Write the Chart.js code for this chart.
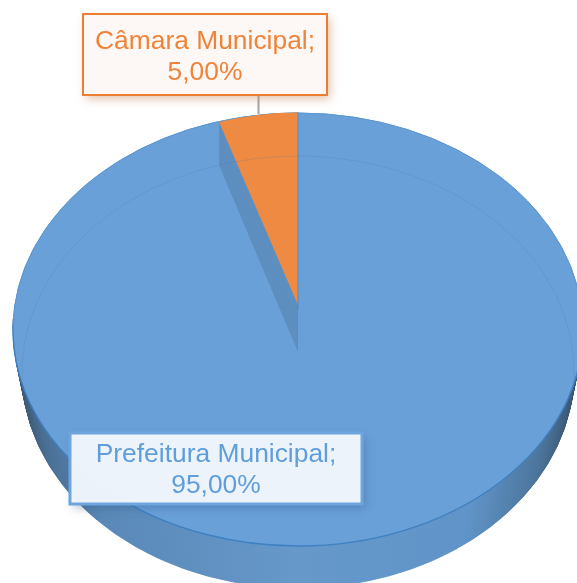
<!DOCTYPE html>
<html>
<head>
<meta charset="utf-8">
<style>html,body{margin:0;padding:0;background:#fff;overflow:hidden}canvas{display:block}</style>
<script src="https://cdn.jsdelivr.net/npm/chart.js@4/dist/chart.umd.min.js"></script>
</head>
<body>
<canvas id="c" width="577" height="583"></canvas>
<script>
const categories = ['Prefeitura Municipal', 'Câmara Municipal'];
const values = [95, 5];
const valueLabels = ['95,00%', '5,00%'];
const sliceColors = ['#6aa0d8', '#ee8a41'];

const faceTop = {x: 298, y: 329.5, rx: 285, ry: 216.5};
const faceBottom = {x: 298, y: 372, rx: 276, ry: 216};
const wedgeTop = {x: 298, y: 305, rx: 255.6, ry: 192.4};
const wedgeBottom = {x: 298, y: 352, rx: 255.6, ry: 196.6};
const labelFont = '400 26.4px "Liberation Sans"';
const labelBoxes = [
  {x: 70, y: 433, w: 292, h: 71, border: '#6fa5dd', fill: 'rgba(240,245,252,0.98)', text: '#5f9edb', lw: 3, shadow: 'rgba(40,80,130,0.35)'},
  {x: 83, y: 14, w: 244, h: 81, border: '#ed7d31', fill: '#fdf8f5', text: '#f08338', lw: 2, shadow: 'rgba(190,120,70,0.45)'}
];

function lerp(a, b, t) {
  return {x: a.x + (b.x - a.x) * t, y: a.y + (b.y - a.y) * t, rx: a.rx + (b.rx - a.rx) * t, ry: a.ry + (b.ry - a.ry) * t};
}
function paintArc(ctx, arc, g, fill, stroke) {
  const saved = arc.options;
  arc.options = Object.assign({}, saved, {backgroundColor: fill, borderColor: stroke || fill, borderWidth: stroke ? 1 : 0});
  ctx.save();
  ctx.translate(g.x, g.y);
  ctx.scale(g.rx / arc.outerRadius, g.ry / arc.outerRadius);
  ctx.translate(-arc.x, -arc.y);
  arc.draw(ctx);
  ctx.restore();
  arc.options = saved;
}
function strokeRim(ctx, g, a0, a1, color, width) {
  ctx.beginPath();
  ctx.ellipse(g.x, g.y, g.rx, g.ry, 0, a0, a1);
  ctx.strokeStyle = color;
  ctx.lineWidth = width;
  ctx.stroke();
}

const pie3d = {
  id: 'pie3d',
  beforeDatasetsDraw(chart) {
    const ctx = chart.ctx;
    const arcs = chart.getDatasetMeta(0).data;
    const blue = arcs[0], orange = arcs[1];
    const R = blue.outerRadius;

    // side wall: the slices swept from the top rim to the bottom rim
    const wall = ctx.createLinearGradient(blue.x - R, 0, blue.x + R, 0);
    wall.addColorStop(0, '#39546f');
    wall.addColorStop(0.05, '#4a6f94');
    wall.addColorStop(0.15, '#5a89b8');
    wall.addColorStop(0.5, '#6698ca');
    wall.addColorStop(0.8, '#6094c8');
    wall.addColorStop(0.93, '#4c759c');
    wall.addColorStop(1, '#37526c');
    const steps = 50;
    for (let i = steps; i >= 1; i--) {
      const g = lerp(faceTop, faceBottom, i / steps);
      arcs.forEach(a => paintArc(ctx, a, g, wall, wall));
    }

    // top face
    arcs.forEach(a => paintArc(ctx, a, faceTop, sliceColors[0], sliceColors[0]));
    strokeRim(ctx, faceTop, -0.05, Math.PI + 0.05, '#3f80c2', 1.4);
    strokeRim(ctx, faceTop, Math.PI, 2 * Math.PI, '#5b96d2', 1);

    // inner wall of the cut
    for (let i = steps; i >= 0; i--) {
      paintArc(ctx, orange, lerp(wedgeTop, wedgeBottom, i / steps), '#5e8fc0');
    }
    // orange slice
    paintArc(ctx, orange, wedgeTop, sliceColors[1]);

    // rim of the far base seen through the face
    strokeRim(ctx, faceBottom, Math.PI * 0.98, Math.PI * 2.02, 'rgba(60,110,170,0.17)', 1);

    // seam on the right side of the orange slice
    ctx.beginPath();
    ctx.moveTo(wedgeTop.x, wedgeTop.y - wedgeTop.ry);
    ctx.lineTo(wedgeTop.x, wedgeTop.y + 5);
    ctx.strokeStyle = 'rgba(70,120,170,0.6)';
    ctx.lineWidth = 1;
    ctx.stroke();
    return false;
  },
  afterDraw(chart) {
    const ctx = chart.ctx;
    // leader line
    const top = labelBoxes[1];
    ctx.beginPath();
    ctx.moveTo(258.5, top.y + top.h);
    ctx.lineTo(258.5, 114);
    ctx.strokeStyle = '#a5a5a5';
    ctx.lineWidth = 2;
    ctx.stroke();

    labelBoxes.forEach((b, i) => {
      ctx.save();
      ctx.shadowColor = b.shadow;
      ctx.shadowBlur = 9;
      ctx.shadowOffsetX = 3;
      ctx.shadowOffsetY = 4;
      ctx.fillStyle = b.fill;
      ctx.fillRect(b.x, b.y, b.w, b.h);
      ctx.restore();
      ctx.strokeStyle = b.border;
      ctx.lineWidth = b.lw;
      ctx.strokeRect(b.x, b.y, b.w, b.h);
      ctx.fillStyle = b.text;
      ctx.font = labelFont;
      ctx.textAlign = 'center';
      ctx.textBaseline = 'alphabetic';
      const cx = b.x + b.w / 2;
      ctx.fillText(categories[i] + ';', cx, b.y + (i === 0 ? 29 : 35));
      ctx.fillText(valueLabels[i], cx, b.y + (i === 0 ? 60 : 66));
    });
  }
};

new Chart(document.getElementById('c'), {
  type: 'pie',
  data: {
    labels: categories,
    datasets: [{data: values, backgroundColor: sliceColors, borderWidth: 0}]
  },
  options: {
    responsive: false,
    animation: false,
    events: [],
    plugins: {legend: {display: false}, tooltip: {enabled: false}, title: {display: false}}
  },
  plugins: [pie3d]
});
</script>
</body>
</html>
